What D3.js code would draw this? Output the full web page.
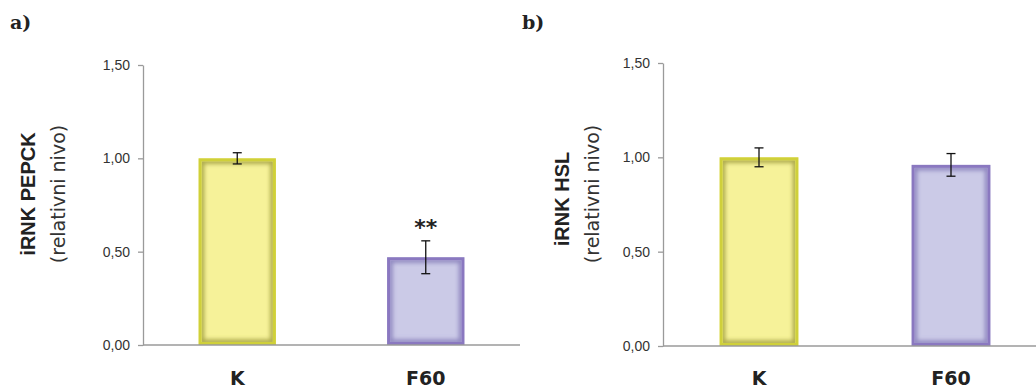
<!DOCTYPE html>
<html>
<head>
<meta charset="utf-8">
<script src="https://cdn.jsdelivr.net/npm/d3@7"></script>
<style>
  body { margin: 0; background: #fff; }
  svg { display: block; }
</style>
</head>
<body>
<svg id="chart" width="1036" height="390"></svg>
<script>
const categories = ["K", "F60"];
const pepckValues = [1.00, 0.47];
const pepckErrors = [0.03, 0.088];
const pepckStars = ["", "**"];
const hslValues = [1.00, 0.96];
const hslErrors = [0.05, 0.06];
const hslStars = ["", ""];
const yTicks = [0, 0.5, 1.0, 1.5];

const svg = d3.select("#chart");

const barFill = { K: "#f6f299", F60: "#cbcae7" };
const barStroke = { K: "#cfd03a", F60: "#8a78c0" };
const barShade = { K: "#a9a646", F60: "#8e86bf" };

const defs = svg.append("defs");
defs.append("filter")
    .attr("id", "soft")
    .attr("x", "-20%").attr("y", "-20%")
    .attr("width", "140%").attr("height", "140%")
    .append("feGaussianBlur").attr("stdDeviation", 2.2);

const fmt = v => d3.format(".2f")(v).replace(".", ",");
let clipId = 0;

function drawPanel(opt) {
    const g = svg.append("g");

    const x = d3.scaleBand()
        .domain(categories)
        .range([opt.x0, opt.x1])
        .paddingInner(0.59)
        .paddingOuter(0.295);
    const y = d3.scaleLinear().domain([0, 1.5]).range([opt.yBottom, opt.yTop]);

    // panel letter
    g.append("text")
        .attr("x", opt.letterX).attr("y", 29)
        .style("font-family", "'DejaVu Serif', serif")
        .style("font-weight", "bold")
        .style("font-size", "19px")
        .style("fill", "#222")
        .text(opt.letter);

    // y axis
    const yAxis = g.append("g")
        .attr("transform", `translate(${opt.x0},0)`)
        .call(d3.axisLeft(y).tickValues(yTicks).tickFormat(fmt).tickSize(5).tickSizeOuter(0).tickPadding(8));
    yAxis.select(".domain").attr("stroke", "#9a9a9a").attr("stroke-width", 1.3);
    yAxis.selectAll(".tick line").attr("stroke", "#9a9a9a").attr("stroke-width", 1.3);
    yAxis.selectAll(".tick text")
        .style("font-family", "'Liberation Sans', Arial, sans-serif")
        .style("font-size", "14px")
        .style("fill", "#333");

    const data = categories.map((c, i) => ({ c, v: opt.values[i], e: opt.errors[i], s: opt.stars[i] }));

    // bars: fill, soft inner shade, outer stroke
    data.forEach(d => {
        const bx = x(d.c), by = y(d.v), bw = x.bandwidth(), bh = y(0) - y(d.v);
        const id = "clip" + (clipId++);
        defs.append("clipPath").attr("id", id)
            .append("rect").attr("x", bx + 3).attr("y", by + 3).attr("width", bw - 6).attr("height", bh - 6);

        g.append("rect")
            .attr("x", bx).attr("y", by).attr("width", bw).attr("height", bh)
            .attr("fill", barFill[d.c]);
        g.append("g").attr("clip-path", `url(#${id})`)
            .append("rect")
            .attr("x", bx + 3).attr("y", by + 3).attr("width", bw - 6).attr("height", bh - 6)
            .attr("fill", "none")
            .attr("stroke", barShade[d.c])
            .attr("stroke-width", 5)
            .attr("filter", "url(#soft)");
        g.append("rect")
            .attr("x", bx + 1.5).attr("y", by + 1.5).attr("width", bw - 3).attr("height", bh - 3)
            .attr("fill", "none")
            .attr("stroke", barStroke[d.c])
            .attr("stroke-width", 3);
    });

    // x axis line
    g.append("line")
        .attr("x1", opt.x0).attr("x2", opt.x1)
        .attr("y1", y(0)).attr("y2", y(0))
        .attr("stroke", "#9a9a9a").attr("stroke-width", 1.3);

    // error bars
    const cx = d => x(d.c) + x.bandwidth() / 2;
    const eb = g.selectAll(".err").data(data).enter().append("g").attr("class", "err")
        .attr("stroke", "#111").attr("stroke-width", 1.3);
    eb.append("line").attr("x1", cx).attr("x2", cx).attr("y1", d => y(d.v + d.e)).attr("y2", d => y(d.v - d.e));
    eb.append("line").attr("x1", d => cx(d) - 4.5).attr("x2", d => cx(d) + 4.5).attr("y1", d => y(d.v + d.e)).attr("y2", d => y(d.v + d.e));
    eb.append("line").attr("x1", d => cx(d) - 4.5).attr("x2", d => cx(d) + 4.5).attr("y1", d => y(d.v - d.e)).attr("y2", d => y(d.v - d.e));

    // significance stars
    g.selectAll(".star").data(data.filter(d => d.s)).enter().append("text")
        .attr("x", cx)
        .attr("y", d => y(d.v + d.e) - 6)
        .attr("text-anchor", "middle")
        .style("font-family", "'DejaVu Sans', sans-serif")
        .style("font-weight", "bold")
        .style("font-size", "22px")
        .style("fill", "#222")
        .text(d => d.s);

    // category labels
    g.selectAll(".cat").data(data).enter().append("text")
        .attr("x", cx)
        .attr("y", 385)
        .attr("text-anchor", "middle")
        .style("font-family", "'DejaVu Sans', sans-serif")
        .style("font-weight", "bold")
        .style("font-size", "19px")
        .style("fill", "#222")
        .text(d => d.c);

    // y titles
    g.append("text")
        .attr("transform", `translate(${opt.titleX},${opt.titleY}) rotate(-90)`)
        .attr("text-anchor", "middle")
        .style("font-family", "'Liberation Sans', Arial, sans-serif")
        .style("font-weight", "bold")
        .style("font-size", "20px")
        .style("fill", "#222")
        .text(opt.title);
    g.append("text")
        .attr("transform", `translate(${opt.titleX + 30},194) rotate(-90)`)
        .attr("text-anchor", "middle")
        .style("font-family", "'DejaVu Sans', sans-serif")
        .style("font-size", "19px")
        .style("fill", "#333")
        .text("(relativni nivo)");
}

drawPanel({
    letter: "a)", letterX: 10,
    x0: 143, x1: 520, yTop: 65, yBottom: 345,
    values: pepckValues, errors: pepckErrors, stars: pepckStars,
    title: "iRNK PEPCK", titleX: 35, titleY: 194
});

drawPanel({
    letter: "b)", letterX: 522,
    x0: 663, x1: 1047, yTop: 63, yBottom: 346,
    values: hslValues, errors: hslErrors, stars: hslStars,
    title: "iRNK HSL", titleX: 569, titleY: 199
});
</script>
</body>
</html>
